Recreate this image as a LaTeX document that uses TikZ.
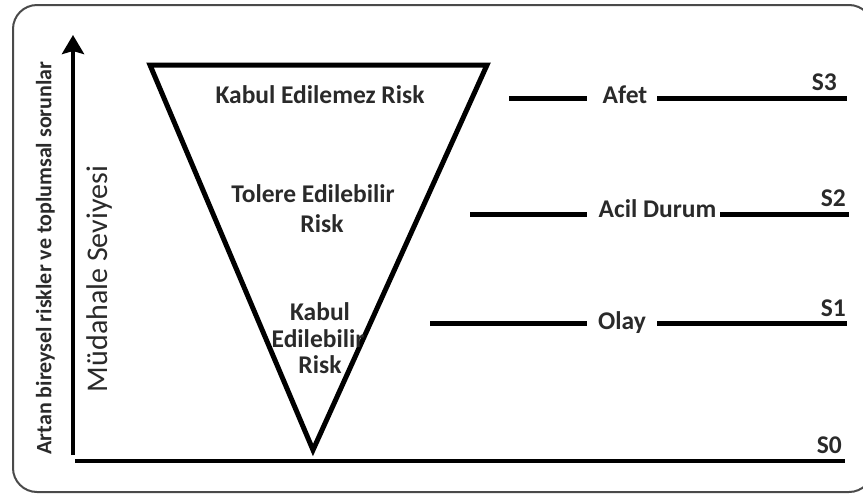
\documentclass[tikz,border=0pt]{standalone}
\usepackage{fontspec}
\setmainfont{Carlito}
\usetikzlibrary{arrows.meta}
\definecolor{txt}{HTML}{2A2A2A}
\definecolor{framegray}{HTML}{4A4A4A}
\begin{document}
\begin{tikzpicture}[x=1pt,y=-1pt,
  lbl/.style={font=\fontsize{25.5}{30}\selectfont\bfseries, text=txt, inner sep=0pt, anchor=base},
  slbl/.style={lbl, anchor=base east},
  level/.style={line width=5pt},
  axis/.style={line width=4pt}]
\useasboundingbox (0,0) rectangle (863,496);
\clip (0,0) rectangle (863,496);

% outer rounded frame
\draw[framegray, line width=2pt, rounded corners=24pt] (13,5) rectangle (873,492);

% axes
\coordinate (ybot) at (73,455);
\coordinate (ytop) at (73,35);
\draw[axis, -{Stealth[width=22pt, length=19pt, inset=3pt]}] (ybot) -- (ytop);
\coordinate (xl) at (75,461);
\coordinate (xr) at (845,461);
\draw[axis] (xl) -- (xr);

% axis labels
\node[font=\fontsize{22}{26}\selectfont\bfseries, text=txt, rotate=90, inner sep=0pt]
  (ax1) at (45.5,258) {Artan bireysel riskler ve toplumsal sorunlar};
\node[font=\fontsize{30}{34}\selectfont, text=txt, rotate=90, inner sep=0pt]
  (ax2) at (100,279) {Müdahale Seviyesi};

% inverted risk triangle
\coordinate (tl) at (150,65);
\coordinate (tr) at (487,65);
\coordinate (tb) at (313,450);
\draw[line width=5pt, line join=miter] (tl) -- (tr) -- (tb) -- cycle;

\node[lbl] (r1) at (320,103) {Kabul Edilemez Risk};
\node[lbl] (r2a) at (313,202) {Tolere Edilebilir};
\node[lbl] (r2b) at (322,232) {Risk};
\node[lbl] (r3a) at (320,320) {Kabul};
\node[lbl] (r3b) at (318,347) {Edilebilir};
\node[lbl] (r3c) at (320,373) {Risk};

% response levels
\node[lbl] (afet) at (625,103) {Afet};
\coordinate (a1) at (509,98); \coordinate (a2) at (587,98);
\coordinate (a3) at (657,98); \coordinate (a4) at (847,98);
\draw[level] (a1) -- (a2);
\draw[level] (a3) -- (a4);

\node[lbl] (acil) at (657.5,217) {Acil Durum};
\coordinate (b1) at (470,214); \coordinate (b2) at (587,214);
\coordinate (b3) at (720,214); \coordinate (b4) at (849,214);
\draw[level] (b1) -- (b2);
\draw[level] (b3) -- (b4);

\node[lbl] (olay) at (622,329) {Olay};
\coordinate (c1) at (430,323); \coordinate (c2) at (587,323);
\coordinate (c3) at (657,323); \coordinate (c4) at (847,323);
\draw[level] (c1) -- (c2);
\draw[level] (c3) -- (c4);

% level names
\node[slbl] (s3) at (837,90) {S3};
\node[slbl] (s2) at (846,206) {S2};
\node[slbl] (s1) at (846,316) {S1};
\node[slbl] (s0) at (842,453) {S0};
\end{tikzpicture}
\end{document}
